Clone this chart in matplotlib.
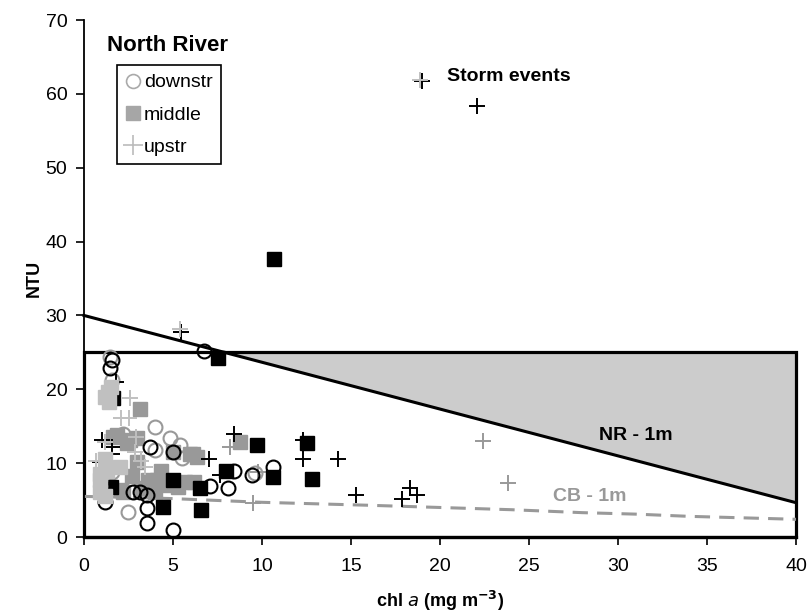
import numpy as np
import matplotlib
matplotlib.use("Agg")
import matplotlib.pyplot as plt
from matplotlib.lines import Line2D
from matplotlib.patches import Rectangle

plt.rcParams['font.family'] = ['Liberation Sans', 'DejaVu Sans']

# --- NR 1 m threshold line and CB 1 m reference curve
nr_x = [0, 40]
nr_y = [30.0, 4.65]
cb_x = [0, 2, 5, 8, 10, 13, 16, 20, 24, 26, 28, 31, 34, 37, 40]
cb_y = [5.5, 5.4, 5.2, 4.9, 4.7, 4.5, 4.3, 4.0, 3.7, 3.5, 3.3, 3.1, 2.8, 2.6, 2.4]
box_x = 40
box_y = 25

# --- downstream stations (open circles)
down_blk_x = [6.74, 1.55, 1.46, 3.7, 5.02, 8.4, 9.42, 10.6, 7.08, 8.1, 2.77, 3.15, 3.52,
              1.18, 3.52, 3.52, 5.02]
down_blk_y = [25.2, 24.0, 22.9, 12.2, 11.55, 9.0, 8.4, 9.5, 6.9, 6.7, 6.1, 6.1, 5.7,
              4.8, 3.9, 1.85, 1.0]
down_gry_x = [1.46, 1.55, 3.99, 4.83, 2.2, 3.99, 5.4, 5.5, 1.55, 9.6, 2.49]
down_gry_y = [24.4, 21.3, 14.9, 13.4, 14.0, 11.8, 12.5, 10.7, 8.8, 8.7, 3.4]

# --- middle stations (filled squares)
mid_blk_x = [7.55, 10.67, 1.65, 9.7, 12.5, 8.0, 10.6, 12.83, 4.98, 6.52, 4.46, 6.55, 1.5]
mid_blk_y = [24.3, 37.7, 18.8, 12.5, 12.7, 8.9, 8.1, 7.9, 7.7, 6.7, 4.0, 3.65, 6.8]
mid_gry_x = [3.15, 1.65, 2.96, 2.4, 5.02, 5.96, 6.33, 6.14, 8.76, 2.1, 2.2, 3.6, 4.1,
             4.75, 5.7, 3.0, 4.3, 1.84, 2.58, 3.2, 5.3, 6.2, 4.0, 2.7]
mid_gry_y = [17.4, 13.6, 13.4, 12.7, 11.55, 11.3, 10.9, 11.3, 12.9, 6.4, 6.1, 7.7, 7.7,
             7.0, 7.4, 10.2, 9.0, 13.8, 13.1, 6.6, 6.8, 7.5, 6.1, 8.3]
mid_lgt_x = [1.35, 1.4, 2.0, 0.9, 0.9, 0.9, 1.2, 1.2, 1.3, 1.5, 1.2]
mid_lgt_y = [19.7, 18.3, 9.5, 8.6, 7.7, 6.1, 5.6, 10.5, 9.0, 20.3, 18.9]

# --- upstream stations (crosses)
up_blk_x = [19.0, 22.06, 5.43, 1.8, 1.0, 1.55, 1.55, 0.9, 8.43, 7.04, 7.64, 12.3, 12.3,
            14.25, 15.26, 17.85, 18.3, 18.7]
up_blk_y = [61.7, 58.3, 27.8, 21.0, 13.1, 12.2, 11.3, 10.2, 14.0, 10.5, 8.4, 13.1, 10.5,
            10.5, 5.7, 5.1, 6.7, 5.7]
up_gry_x = [22.4, 23.8, 9.5, 8.2, 9.8]
up_gry_y = [13.0, 7.3, 4.6, 12.2, 8.8]
up_lgt_x = [18.9, 5.38, 2.58, 2.1, 2.5, 2.87, 3.43, 0.7, 1.2, 3.2, 2.9]
up_lgt_y = [61.9, 28.1, 18.8, 16.1, 16.1, 11.55, 9.5, 10.3, 12.8, 10.3, 13.6]

BLACK = '#000000'
GRAY = '#999999'
LIGHT = '#c0c0c0'

fig = plt.figure(figsize=(8.07, 6.16), dpi=100)
ax = fig.add_axes([0.1041, 0.1282, 0.8823, 0.8393])

# shaded zone between the NR line and the 25 NTU box top
line_x = np.linspace(nr_x[0], nr_x[1], 400)
line_y = np.interp(line_x, nr_x, nr_y)
ax.fill_between(line_x, line_y, box_y, where=line_y < box_y, interpolate=True,
                color='#cccccc', lw=0, zorder=1)
ax.add_patch(Rectangle((0, 0), box_x, box_y, fill=False, ec='black', lw=2.3,
                       zorder=2, clip_on=False))
ax.plot(nr_x, nr_y, color='black', lw=2.2, zorder=2, clip_on=False)
ax.plot(cb_x, cb_y, color=GRAY, lw=2.2, dashes=(5, 3), zorder=2)

ms = 10
ax.plot(mid_gry_x, mid_gry_y, 's', ms=ms, color=GRAY, mec=GRAY, zorder=3)
ax.plot(down_gry_x, down_gry_y, 'o', ms=ms, mfc='none', mec=GRAY, mew=1.5, zorder=3)
ax.plot(up_gry_x, up_gry_y, '+', ms=11, color=GRAY, mew=1.4, zorder=3)
ax.plot(mid_blk_x, mid_blk_y, 's', ms=ms, color=BLACK, zorder=4)
ax.plot(down_blk_x, down_blk_y, 'o', ms=ms, mfc='none', mec=BLACK, mew=1.5, zorder=4)
ax.plot(up_blk_x, up_blk_y, '+', ms=11, color=BLACK, mew=1.4, zorder=4)
ax.plot(mid_lgt_x, mid_lgt_y, 's', ms=ms, color=LIGHT, zorder=5)
ax.plot(up_lgt_x, up_lgt_y, '+', ms=11, color=LIGHT, mew=1.4, zorder=5)

ax.set_xlim(0, 40)
ax.set_ylim(0, 70)
ax.set_xticks(np.arange(0, 41, 5))
ax.set_yticks(np.arange(0, 71, 10))
for s in ['top', 'right']:
    ax.spines[s].set_visible(False)
ax.spines['left'].set_linewidth(1.3)
ax.spines['bottom'].set_linewidth(2.3)
ax.tick_params(direction='out', length=6, width=1.2, labelsize=14)
ax.tick_params(axis='x', pad=9)
ax.tick_params(axis='y', pad=6)

ax.set_ylabel('NTU', fontsize=13, fontweight='bold', labelpad=2)
ax.set_xlabel(r'chl $\mathbf{\it{a}}$ (mg m$^{\mathbf{-3}}$)', fontsize=13,
              fontweight='bold', labelpad=10)

ax.text(1.3, 66.6, 'North River', fontsize=16, fontweight='bold', va='center')
ax.text(20.4, 62.3, 'Storm events', fontsize=14, fontweight='bold', va='center')
ax.text(31.0, 13.8, 'NR - 1m', fontsize=14, fontweight='bold', ha='center', va='center')
ax.text(28.4, 5.5, 'CB - 1m', fontsize=14, fontweight='bold', ha='center', va='center',
        color=GRAY)

handles = [
    Line2D([], [], ls='none', marker='o', ms=10, mfc='none', mec='#aaaaaa', mew=1.2),
    Line2D([], [], ls='none', marker='s', ms=10, color='#a6a6a6'),
    Line2D([], [], ls='none', marker='+', ms=14, color='#bbbbbb', mew=1.2),
]
leg = ax.legend(handles, ['downstr', 'middle', 'upstr'], loc='upper left',
                bbox_to_anchor=(0.046, 0.913), fontsize=14, frameon=True,
                fancybox=False, edgecolor='black', framealpha=1,
                handlelength=0.8, handletextpad=0.15, borderpad=0.45,
                labelspacing=0.75, borderaxespad=0)
leg.get_frame().set_linewidth(1.2)

fig.savefig('out.png', dpi=100)
